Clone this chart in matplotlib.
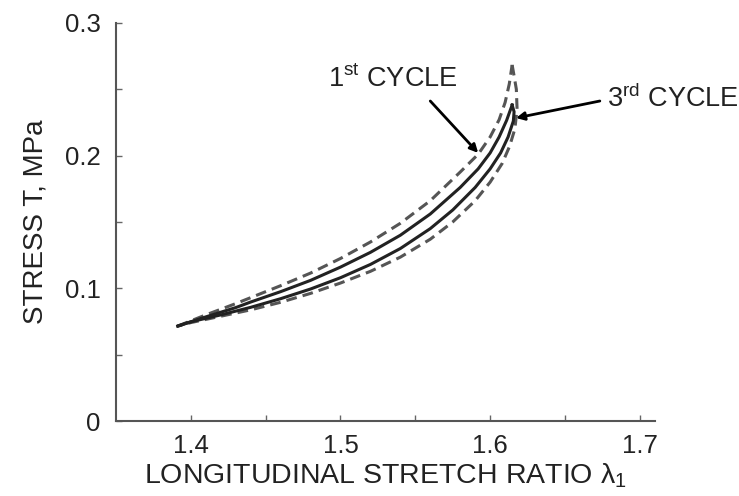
import matplotlib
matplotlib.use('Agg')
from matplotlib import pyplot as plt

plt.rcParams['font.family'] = ['Liberation Sans', 'DejaVu Sans']
plt.rcParams['mathtext.fontset'] = 'custom'
plt.rcParams['mathtext.rm'] = 'Liberation Sans'
plt.rcParams['mathtext.it'] = 'Liberation Sans'

# 1st cycle, loading (dashed, upper)
c1_load_x = [1.3913, 1.41, 1.43, 1.44, 1.46, 1.48, 1.50, 1.52, 1.54, 1.56, 1.58, 1.592, 1.600, 1.606, 1.610, 1.6128, 1.6147]
c1_load_y = [0.0716, 0.0800, 0.0885, 0.0930, 0.1020, 0.1115, 0.1225, 0.1349, 0.1490, 0.1660, 0.1876, 0.2010, 0.2140, 0.2270, 0.2400, 0.2540, 0.2683]
# 1st cycle, unloading (dashed, lowest)
c1_unload_x = [1.6147, 1.6160, 1.6175, 1.6180, 1.6165, 1.613, 1.608, 1.600, 1.590, 1.575, 1.56, 1.54, 1.52, 1.50, 1.48, 1.46, 1.44, 1.42, 1.40, 1.3913]
c1_unload_y = [0.2683, 0.2600, 0.2500, 0.2350, 0.2200, 0.2070, 0.1940, 0.1800, 0.1660, 0.1500, 0.1370, 0.1235, 0.1128, 0.1040, 0.0962, 0.0895, 0.0838, 0.0790, 0.0742, 0.0716]
# 3rd cycle, loading (solid)
c3_load_x = [1.3913, 1.41, 1.43, 1.44, 1.46, 1.48, 1.50, 1.52, 1.54, 1.56, 1.58, 1.592, 1.600, 1.606, 1.611, 1.6147]
c3_load_y = [0.0716, 0.0785, 0.0855, 0.0897, 0.0975, 0.1060, 0.1160, 0.1271, 0.1400, 0.1560, 0.1760, 0.1900, 0.2020, 0.2140, 0.2265, 0.2381]
# 3rd cycle, unloading (solid)
c3_unload_x = [1.6147, 1.6160, 1.6155, 1.612, 1.607, 1.600, 1.590, 1.575, 1.56, 1.54, 1.52, 1.50, 1.48, 1.46, 1.44, 1.42, 1.40, 1.3913]
c3_unload_y = [0.2381, 0.2330, 0.2260, 0.2140, 0.2020, 0.1900, 0.1760, 0.1590, 0.1450, 0.1300, 0.1180, 0.1080, 0.0995, 0.0922, 0.0857, 0.0800, 0.0748, 0.0716]

x_ticks = [1.4, 1.5, 1.6, 1.7]
y_ticks = [0, 0.1, 0.2, 0.3]
y_tick_labels = ['0', '0.1', '0.2', '0.3']

fig = plt.figure(figsize=(7.39, 4.96), dpi=100)
ax = fig.add_axes([0.157, 0.151, 0.729, 0.803])

dash_style = dict(color='#555555', linewidth=2.2, linestyle=(0, (3.5, 2)))
solid_style = dict(color='#222222', linewidth=2.2)
ax.plot(c1_load_x, c1_load_y, **dash_style)
ax.plot(c1_unload_x, c1_unload_y, **dash_style)
ax.plot(c3_load_x, c3_load_y, **solid_style)
ax.plot(c3_unload_x, c3_unload_y, **solid_style)

ax.set_xlim(1.35, 1.71)
ax.set_ylim(0, 0.3)
ax.set_xticks(x_ticks)
ax.set_xticklabels([str(t) for t in x_ticks])
ax.set_yticks(y_ticks)
ax.set_yticklabels(y_tick_labels)
ax.set_xticks([1.45, 1.55, 1.65], minor=True)
ax.set_yticks([0.05, 0.15, 0.25], minor=True)
ax.tick_params(which='both', direction='in', length=4, color='#666666', width=1)
ax.tick_params(axis='y', which='major', pad=11, labelsize=18.5, labelcolor='#222222')
ax.tick_params(axis='x', which='major', pad=9, labelsize=18.5, labelcolor='#222222')

for side in ['top', 'right']:
    ax.spines[side].set_visible(False)
for side in ['left', 'bottom']:
    ax.spines[side].set_color('#555555')
    ax.spines[side].set_linewidth(1.5)

ax.set_xlabel('LONGITUDINAL STRETCH RATIO λ$_1$', fontsize=20.5, color='#222222', labelpad=3)
ax.set_ylabel('STRESS T, MPa', fontsize=20, color='#222222', labelpad=12)

arrow = dict(arrowstyle='-|>', color='black', lw=2, mutation_scale=12, shrinkA=0, shrinkB=0)
ax.text(1.5347, 0.2577, '1$^{\\rm st}$ CYCLE', fontsize=19.5, ha='center', va='center', color='#222222')
ax.annotate('', xy=(1.592, 0.202), xytext=(1.56, 0.2411), arrowprops=arrow)
ax.text(1.722, 0.2427, '3$^{\\rm rd}$ CYCLE', fontsize=19.5, ha='center', va='center', color='#222222', clip_on=False)
ax.annotate('', xy=(1.6173, 0.2283), xytext=(1.6733, 0.2411), arrowprops=arrow, annotation_clip=False)

plt.savefig('out.png', dpi=100)
